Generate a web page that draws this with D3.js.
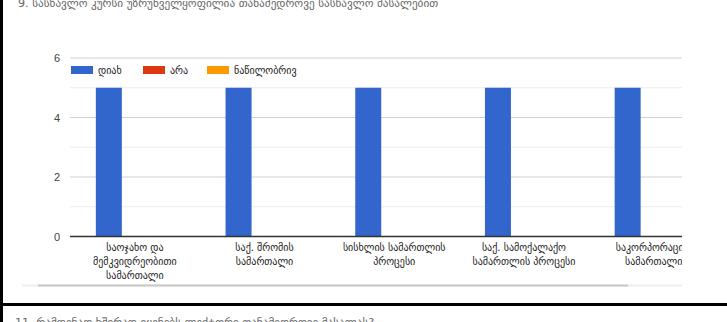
<!DOCTYPE html>
<html><head><meta charset="utf-8">
<script src="https://cdn.jsdelivr.net/npm/d3@7"></script>
<style>html,body{margin:0;padding:0;background:#fff;overflow:hidden}svg{display:block}</style>
</head><body>
<script>
const title = "9. სასწავლო კურსი უზრუნველყოფილია თანამედროვე სასწავლო მასალებით";
const nextQuestion = "11. რამდენად ხშირად იყენებს ლექტორი თანამედროვე მასალას?";
const categories = [
  ["საოჯახო და", "მემკვიდრეობითი", "სამართალი"],
  ["საქ. შრომის", "სამართალი"],
  ["სისხლის სამართლის", "პროცესი"],
  ["საქ. სამოქალაქო", "სამართლის პროცესი"],
  ["საკორპორაციო", "სამართალი"]
];
const seriesNames = ["დიახ", "არა", "ნაწილობრივ"];
const seriesColors = ["#3366cc", "#dc3912", "#ff9900"];
const valuesYes = [5, 5, 5, 5, 5];
const valuesNo = [0, 0, 0, 0, 0];
const valuesPartly = [0, 0, 0, 0, 0];
const yTicks = [0, 2, 4, 6];
const yMinor = [1, 3, 5];

const W = 727, H = 322;
const svg = d3.select("body").append("svg").attr("width", W).attr("height", H);
const geo = "'DejaVu Sans', sans-serif";

svg.append("defs").append("clipPath").attr("id", "clip")
  .append("rect").attr("x", 0).attr("y", 0).attr("width", 682).attr("height", H);

// title (cut at top)
svg.append("text").attr("x", 18).attr("y", 6.5).attr("font-family", geo)
  .attr("font-size", 11.2).attr("fill", "#666").text(title);

const catIdx = categories.map((d, i) => i);
const x = d3.scaleBand().domain(catIdx).range([70, 718.5]);
const xs = d3.scaleBand().domain(d3.range(seriesNames.length)).range([0, 78]);
const y = d3.scaleLinear().domain([0, 6]).range([236.5, 58]);

const g = svg.append("g").attr("clip-path", "url(#clip)");

g.selectAll("line.minor").data(yMinor).join("line")
  .attr("x1", 70).attr("x2", 682).attr("y1", d => y(d)).attr("y2", d => y(d))
  .attr("stroke", "#ececec").attr("stroke-width", 1);
g.selectAll("line.major").data(yTicks.filter(d => d > 0)).join("line")
  .attr("x1", 70).attr("x2", 682).attr("y1", d => y(d)).attr("y2", d => y(d))
  .attr("stroke", "#d0d0d0").attr("stroke-width", 1);

// y tick labels via axis
const yAxis = svg.append("g").attr("transform", "translate(60,0)")
  .call(d3.axisLeft(y).tickValues(yTicks).tickFormat(d3.format("d")).tickSize(0).tickPadding(0));
yAxis.select(".domain").remove();
yAxis.selectAll("text").attr("font-family", "Arial, 'Liberation Sans', sans-serif")
  .attr("font-size", 11).attr("fill", "#444").attr("dy", "0.35em");

const series = [valuesYes, valuesNo, valuesPartly];
const groupOffset = (x.bandwidth() - 78) / 2;
series.forEach((vals, si) => {
  g.append("g").selectAll("rect").data(vals).join("rect")
    .attr("x", (d, i) => x(i) + groupOffset + xs(si))
    .attr("width", xs.bandwidth())
    .attr("y", d => y(d))
    .attr("height", d => y(0) - y(d))
    .attr("fill", seriesColors[si]);
});

// baseline
g.append("line").attr("x1", 70).attr("x2", 682).attr("y1", y(0)).attr("y2", y(0))
  .attr("stroke", "#333").attr("stroke-width", 1.5);

// legend
const legendX = [71, 143, 207];
seriesNames.forEach((n, i) => {
  svg.append("rect").attr("x", legendX[i]).attr("y", 66).attr("width", 22).attr("height", 8)
    .attr("fill", seriesColors[i]);
  svg.append("text").attr("x", legendX[i] + 27).attr("y", 74).attr("font-family", geo)
    .attr("font-size", 10).attr("fill", "#222").text(n);
});

// x labels
categories.forEach((lines, i) => {
  const cx = x(i) + x.bandwidth() / 2;
  lines.forEach((t, li) => {
    g.append("text").attr("x", cx).attr("y", 251 + li * 14).attr("text-anchor", "middle")
      .attr("font-family", geo).attr("font-size", 10).attr("fill", "#222").text(t);
  });
});

// scrollbar-like line
svg.append("line").attr("x1", 22).attr("x2", 682).attr("y1", 285.5).attr("y2", 285.5)
  .attr("stroke", "#eeeeee").attr("stroke-width", 2);
svg.append("line").attr("x1", 38).attr("x2", 628).attr("y1", 285.5).attr("y2", 285.5)
  .attr("stroke", "#c8c8c8").attr("stroke-width", 2);

// document borders
svg.append("rect").attr("x", 0).attr("y", 0).attr("width", 3).attr("height", H).attr("fill", "#000");
svg.append("rect").attr("x", 0).attr("y", 303).attr("width", W).attr("height", 3).attr("fill", "#000");

svg.append("text").attr("x", 15).attr("y", 326).attr("font-family", geo)
  .attr("font-size", 11.2).attr("fill", "#666").text(nextQuestion);
</script>
</body></html>
